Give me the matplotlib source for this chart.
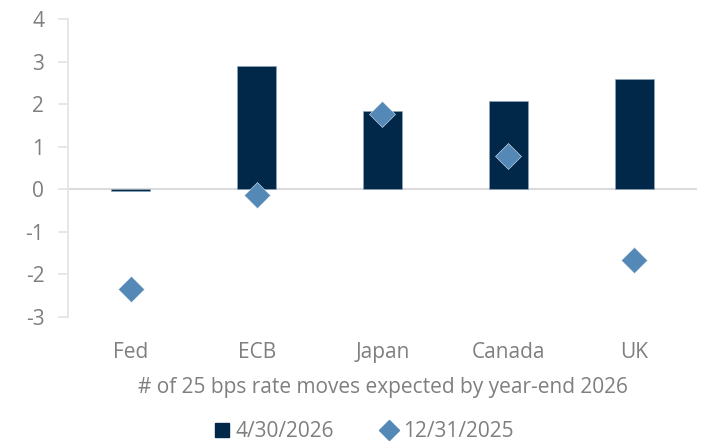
import matplotlib
matplotlib.use("Agg")
from matplotlib import pyplot as plt
from matplotlib.lines import Line2D
from matplotlib.patches import Patch

# datos
bancos = ["Fed", "ECB", "Japan", "Canada", "UK"]
abr_2026 = [-0.05, 2.9, 1.85, 2.08, 2.6]
dic_2025 = [-2.35, -0.14, 1.78, 0.78, -1.67]
ticks_y = [-3, -2, -1, 0, 1, 2, 3, 4]

azul_osc = "#012849"
azul_cla = "#5488b7"
gris = "#7f7f7f"

plt.rcParams["font.family"] = ["Open Sans", "DejaVu Sans"]
plt.rcParams["axes.unicode_minus"] = False

fig = plt.figure(figsize=(7.07, 4.41), dpi=100)
ax = fig.add_axes([0.096, 0.281, 0.89, 0.676])

x = list(range(len(bancos)))
ax.bar(x, abr_2026, width=0.31, color=azul_osc, edgecolor="#8da4bb", linewidth=0.5, zorder=2)
ax.plot(x, dic_2025, linestyle="none", marker="D", markersize=13,
        color=azul_cla, markeredgecolor="#dfe8f1", markeredgewidth=0.4, zorder=3)

ax.axhline(0, color="#dcdcdc", linewidth=1.5, zorder=1)

ax.set_xlim(-0.5, 4.5)
ax.set_ylim(-3, 4)
ax.set_yticks(ticks_y)
ax.set_xticks(x)
ax.set_xticklabels(bancos)

for s in ["top", "right", "bottom"]:
    ax.spines[s].set_visible(False)
ax.spines["left"].set_color("#e3e3e3")
ax.spines["left"].set_linewidth(1.2)

ax.tick_params(axis="y", colors="#e3e3e3", labelcolor=gris, labelsize=15, length=7, width=1.2, pad=10)
ax.tick_params(axis="x", length=0, labelcolor=gris, labelsize=15, pad=18)

ax.set_xlabel("# of 25 bps rate moves expected by year-end 2026", color=gris, fontsize=15, labelpad=10)

handles = [Patch(color=azul_osc, label="4/30/2026"),
           Line2D([], [], linestyle="none", marker="D", markersize=10, color=azul_cla, label="12/31/2025")]
leg = fig.legend(handles=handles, loc="lower center", bbox_to_anchor=(0.515, -0.045), ncol=2, frameon=False,
                 fontsize=15, handlelength=0.7, handletextpad=0.3, columnspacing=2.3)
for t in leg.get_texts():
    t.set_color(gris)

fig.savefig("out.png", dpi=100)
